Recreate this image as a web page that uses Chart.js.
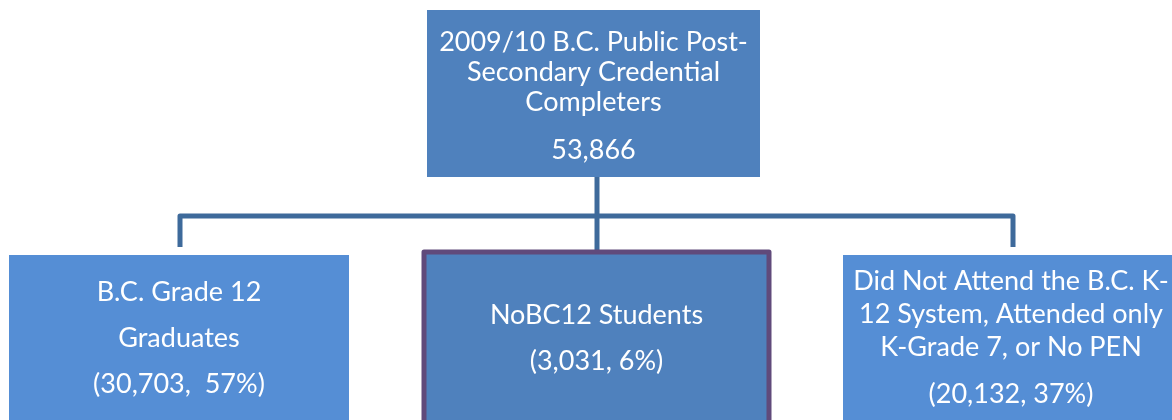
<!DOCTYPE html>
<html>
<head>
<meta charset="utf-8">
<script src="https://cdn.jsdelivr.net/npm/chart.js@4.4.1/dist/chart.umd.min.js"></script>
<style>
  html, body { margin: 0; padding: 0; background: #fff; }
  canvas { display: block; }
</style>
</head>
<body>
<canvas id="tree" width="1172" height="420"></canvas>
<script>
// data
const rootTitle = ["2009/10 B.C. Public Post-", "Secondary Credential", "Completers"];
const rootTotal = 53866;
const groupTitles = [
  ["B.C. Grade 12", "Graduates"],
  ["NoBC12 Students"],
  ["Did Not Attend the B.C. K-", "12 System, Attended only", "K-Grade 7, or No PEN"]
];
const groupCounts = [30703, 3031, 20132];
const groupPercents = [57, 6, 37];
const countSep = [",  ", ", ", ", "];

const fmt = n => n.toLocaleString("en-US");

// layout (canvas units, through the hidden x/y scales)
const rootBox = { x0: 427, x1: 760, y0: 10, y1: 177, fill: "#4f81bd" };
const groupBoxes = [
  { x0: 9, x1: 349, y0: 255, y1: 430, fill: "#558ed5", lines: [292, 338, 384] },
  { x0: 424, x1: 769, y0: 252, y1: 430, fill: "#4f81bd", border: "#604a7b", lines: [315, 361] },
  { x0: 843, x1: 1185, y0: 255, y1: 430, fill: "#558ed5", lines: [281, 314, 347, 394] }
];
const connY = 216;
const connColor = "#3e6a9b";
const font = "27px Lato, 'Open Sans', sans-serif";

const treePlugin = {
  id: "tree",
  afterDraw(chart) {
    const ctx = chart.ctx;
    const sx = chart.scales.x, sy = chart.scales.y;
    const X = v => sx.getPixelForValue(v), Y = v => sy.getPixelForValue(v);
    ctx.save();

    // connectors
    ctx.strokeStyle = connColor;
    ctx.lineWidth = 5;
    ctx.lineJoin = "round";
    ctx.beginPath();
    ctx.moveTo(X(597), Y(rootBox.y1));
    ctx.lineTo(X(597), Y(groupBoxes[1].y0));
    ctx.stroke();
    ctx.beginPath();
    ctx.moveTo(X(180), Y(247));
    ctx.lineTo(X(180), Y(connY));
    ctx.lineTo(X(1013), Y(connY));
    ctx.lineTo(X(1013), Y(247));
    ctx.stroke();

    const box = b => {
      ctx.fillStyle = b.fill;
      ctx.fillRect(X(b.x0), Y(b.y0), X(b.x1) - X(b.x0), Y(b.y1) - Y(b.y0));
      if (b.border) {
        ctx.strokeStyle = b.border;
        ctx.lineWidth = 5;
        ctx.strokeRect(X(b.x0), Y(b.y0), X(b.x1) - X(b.x0), Y(b.y1) - Y(b.y0));
      }
    };

    ctx.textAlign = "center";
    ctx.textBaseline = "middle";

    // root
    box(rootBox);
    const rcx = X((rootBox.x0 + rootBox.x1) / 2);
    ctx.font = font;
    ctx.fillStyle = "#fff";
    rootTitle.forEach((t, i) => ctx.fillText(t, rcx, Y(42 + i * 30)));
    ctx.fillText(fmt(rootTotal), rcx, Y(150));

    // groups
    groupBoxes.forEach((b, i) => {
      box(b);
      ctx.fillStyle = "#fff";
      ctx.font = font;
      const cx = X(i === 2 ? 1011 : (b.x0 + b.x1) / 2);
      const texts = groupTitles[i].concat(["(" + fmt(groupCounts[i]) + countSep[i] + groupPercents[i] + "%)"]);
      texts.forEach((t, k) => ctx.fillText(t, cx, Y(b.lines[k])));
    });
    ctx.restore();
  }
};

new Chart(document.getElementById("tree"), {
  type: "scatter",
  data: { datasets: [{ data: [] }] },
  options: {
    responsive: false,
    animation: false,
    layout: { padding: 0 },
    plugins: { legend: { display: false }, tooltip: { enabled: false } },
    scales: {
      x: { type: "linear", min: 0, max: 1172, display: false },
      y: { type: "linear", min: 0, max: 420, reverse: true, display: false }
    }
  },
  plugins: [treePlugin]
});
</script>
</body>
</html>
